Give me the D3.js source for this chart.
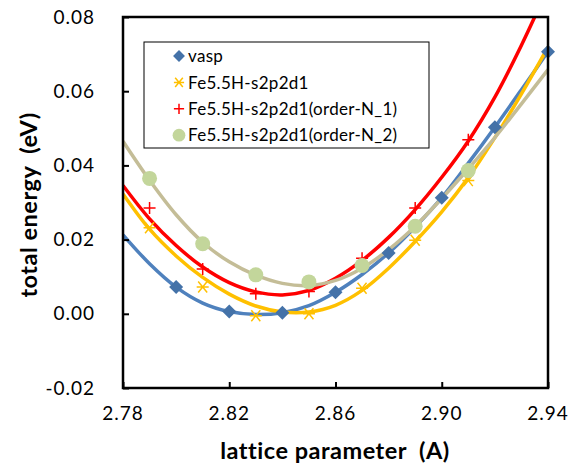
<!DOCTYPE html>
<html>
<head>
<meta charset="utf-8">
<script src="https://cdn.jsdelivr.net/npm/d3@7"></script>
<style>
  body { margin: 0; background: #fff; }
  svg { display: block; font-family: Lato, "Open Sans", sans-serif; }
</style>
</head>
<body>
<svg id="chart" width="578" height="472"></svg>
<script>
// measured points (markers)
const xVasp = [2.80, 2.82, 2.84, 2.86, 2.88, 2.90, 2.92, 2.94];
const vasp = [0.0072, 0.0006, 0.0003, 0.0058, 0.0164, 0.0313, 0.0503, 0.0706];
const xFe = [2.79, 2.81, 2.83, 2.85, 2.87, 2.89, 2.91];
const fe = [0.0232, 0.0072, -0.0005, 0.0000, 0.0069, 0.0198, 0.0359];
const feN1 = [0.0285, 0.0121, 0.0054, 0.0060, 0.0150, 0.0285, 0.0469];
const feN2 = [0.0365, 0.0189, 0.0105, 0.0086, 0.0130, 0.0236, 0.0386];

// fitted curves, every 0.01
const fitX = [2.78, 2.79, 2.80, 2.81, 2.82, 2.83, 2.84, 2.85, 2.86, 2.87, 2.88, 2.89, 2.90, 2.91, 2.92, 2.93, 2.94];
const fitVasp = [0.0213, 0.0135, 0.0072, 0.0029, 0.0006, -0.0002, 0.0003, 0.0022, 0.0058, 0.0106, 0.0164, 0.0234, 0.0313, 0.0406, 0.0503, 0.0604, 0.0707];
const fitFe = [0.0323, 0.0228, 0.0156, 0.0098, 0.0053, 0.0021, 0.0005, 0.0005, 0.0023, 0.0063, 0.0123, 0.0195, 0.0275, 0.0367, 0.0475, 0.0593, 0.0719];
const fitFeN1 = [0.0346, 0.0256, 0.0184, 0.0126, 0.0084, 0.0059, 0.0051, 0.0063, 0.0096, 0.0144, 0.0206, 0.0281, 0.0368, 0.0466, 0.0584, 0.0724, 0.0879];
const fitFeN2 = [0.0465, 0.0360, 0.0267, 0.0193, 0.0140, 0.0104, 0.0082, 0.0076, 0.0090, 0.0123, 0.0173, 0.0236, 0.0311, 0.0391, 0.0475, 0.0566, 0.0658];

const xTicks = [2.78, 2.82, 2.86, 2.90, 2.94];
const yTicks = [-0.02, 0.00, 0.02, 0.04, 0.06, 0.08];

const margin = { top: 17, right: 30, bottom: 84, left: 123 };
const width = 578 - margin.left - margin.right;
const height = 472 - margin.top - margin.bottom;

const svg = d3.select('#chart');
const g = svg.append('g')
  .attr('transform', `translate(${margin.left},${margin.top})`);

const x = d3.scaleLinear().domain([2.78, 2.94]).range([0, width]);
const y = d3.scaleLinear().domain([-0.02, 0.08]).range([height, 0]);

const fmt = d => d3.format('.2f')(d).replace('\u2212', '-');

g.append('clipPath')
  .attr('id', 'plot-clip')
  .append('rect')
  .attr('x', 0)
  .attr('y', 0)
  .attr('width', width + 4)
  .attr('height', height);

const series = [
  { name: 'vasp', xs: xVasp, ys: vasp, fit: fitVasp, line: '#4F81BD', mark: 'diamond', fill: '#4472A8' },
  { name: 'Fe5.5H-s2p2d1', xs: xFe, ys: fe, fit: fitFe, line: '#FFC000', mark: 'asterisk', fill: '#FFC000' },
  { name: 'Fe5.5H-s2p2d1(order-N_1)', xs: xFe, ys: feN1, fit: fitFeN1, line: '#FF0000', mark: 'plus', fill: '#FF0000' },
  { name: 'Fe5.5H-s2p2d1(order-N_2)', xs: xFe, ys: feN2, fit: fitFeN2, line: '#C4BD97', mark: 'circle', fill: '#C3D69B' },
];

const line = d3.line()
  .x((d, i) => x(fitX[i]))
  .y(d => y(d))
  .curve(d3.curveCatmullRom);

const curves = g.append('g').attr('clip-path', 'url(#plot-clip)');

curves.selectAll('.fit')
  .data(series)
  .enter()
  .append('path')
  .attr('class', 'fit')
  .attr('d', d => line(d.fit))
  .attr('fill', 'none')
  .attr('stroke', d => d.line)
  .attr('stroke-width', 3.5)
  .attr('stroke-linejoin', 'round');

const drawMarker = (sel, mark, color, s = 1) => {
  if (mark === 'diamond') {
    sel.append('path')
      .attr('d', `M0,${-7 * s}L${7 * s},0L0,${7 * s}L${-7 * s},0Z`)
      .attr('fill', color);
  } else if (mark === 'circle') {
    sel.append('circle')
      .attr('r', 7.5 * s)
      .attr('fill', color);
  } else if (mark === 'plus') {
    sel.append('path')
      .attr('d', `M${-6 * s},0H${6 * s}M0,${-6 * s}V${6 * s}`)
      .attr('stroke', color)
      .attr('stroke-width', 1.5);
  } else {
    sel.append('path')
      .attr('d', `M${-6 * s},0H${6 * s}M${-4.5 * s},${-5.5 * s}L${4.5 * s},${5.5 * s}M${4.5 * s},${-5.5 * s}L${-4.5 * s},${5.5 * s}`)
      .attr('stroke', color)
      .attr('stroke-width', 1.5);
  }
};

series.forEach((s) => {
  g.append('g')
    .selectAll('.pt')
    .data(s.ys)
    .enter()
    .append('g')
    .attr('class', 'pt')
    .attr('transform', (d, i) => `translate(${x(s.xs[i])},${y(d)})`)
    .each(function () { drawMarker(d3.select(this), s.mark, s.fill); });
});

// frame
g.append('rect')
  .attr('width', width)
  .attr('height', height)
  .attr('fill', 'none')
  .attr('stroke', '#000')
  .attr('stroke-width', 2.5);

// inward ticks
const xAxis = d3.axisTop(x).tickValues(xTicks).tickSize(6).tickFormat('');
const yAxis = d3.axisRight(y).tickValues(yTicks).tickSize(6).tickFormat('');

g.append('g')
  .attr('transform', `translate(0,${height})`)
  .call(xAxis)
  .call(a => a.select('.domain').remove())
  .selectAll('line')
  .attr('stroke-width', 2);

g.append('g')
  .call(yAxis)
  .call(a => a.select('.domain').remove())
  .selectAll('line')
  .attr('stroke-width', 2);

// tick labels
g.selectAll('.xlab')
  .data(xTicks)
  .enter()
  .append('text')
  .attr('x', d => x(d))
  .attr('y', height + 32)
  .attr('text-anchor', 'middle')
  .attr('font-size', 19)
  .attr('letter-spacing', 1)
  .text(fmt);

g.selectAll('.ylab')
  .data(yTicks)
  .enter()
  .append('text')
  .attr('x', -28)
  .attr('y', d => y(d))
  .attr('dy', '0.35em')
  .attr('text-anchor', 'end')
  .attr('font-size', 19)
  .attr('letter-spacing', 1)
  .text(fmt);

// axis titles
svg.append('text')
  .attr('x', 335)
  .attr('y', 459)
  .attr('text-anchor', 'middle')
  .attr('font-size', 23.5)
  .attr('font-weight', 'bold')
  .attr('letter-spacing', 0.5)
  .text('lattice parameter\u00a0 (A)');

svg.append('text')
  .attr('transform', 'translate(37,205) rotate(-90)')
  .attr('text-anchor', 'middle')
  .attr('font-size', 23.5)
  .attr('font-weight', 'bold')
  .attr('letter-spacing', 0.5)
  .text('total energy\u00a0 (eV)');

// legend
const legend = svg.append('g');
legend.append('rect')
  .attr('x', 144)
  .attr('y', 42)
  .attr('width', 285)
  .attr('height', 106)
  .attr('fill', '#fff')
  .attr('stroke', '#000')
  .attr('stroke-width', 1);

const item = legend.selectAll('.item')
  .data(series)
  .enter()
  .append('g')
  .attr('class', 'item')
  .attr('transform', (d, i) => `translate(179,${56 + i * 26.4})`);

item.each(function (d) {
  drawMarker(d3.select(this), d.mark, d.fill, 0.85);
});

item.append('text')
  .attr('x', 9)
  .attr('dy', '0.36em')
  .attr('font-size', 17)
  .attr('letter-spacing', 0.3)
  .text(d => d.name);
</script>
</body>
</html>
